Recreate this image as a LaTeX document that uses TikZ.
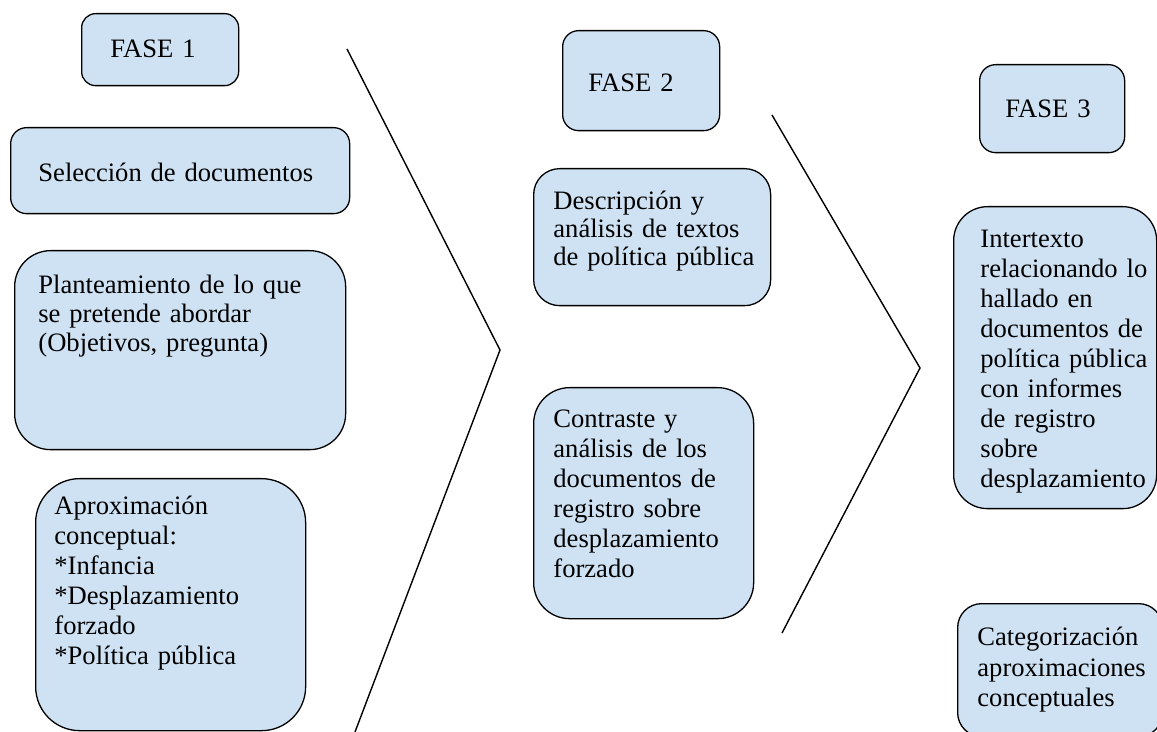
\documentclass[tikz,border=0pt]{standalone}
\usepackage{fontspec}
\setmainfont{Liberation Serif}
\definecolor{boxblue}{RGB}{207,226,243}
\newcommand{\panelfont}[1]{\fontsize{13.3}{#1}\selectfont\spaceskip=0.19em\relax}
\tikzset{
  panel/.style={draw=black, fill=boxblue, line width=0.65pt, anchor=north west, inner sep=0pt},
  paneltext/.style={anchor=base west, inner sep=0pt, align=left, text width=#1,
    font=\panelfont{15}},
  paneltext/.default=200pt,
  chevron/.style={line width=0.7pt, line join=miter}
}
\begin{document}
\begin{tikzpicture}[x=0.5pt, y=-0.5pt]
\useasboundingbox (0,0) rectangle (1157,732);

% Fase 1 column
\node[panel, minimum width=78.5pt, minimum height=36pt, rounded corners=7pt] (fase1) at (81,13) {};
\node[paneltext] (fase1-txt) at (110,58) {FASE 1};
\node[panel, minimum width=169.5pt, minimum height=43pt, rounded corners=8pt] (seleccion) at (10,127) {};
\node[paneltext] (seleccion-txt) at (38,182) {Selección de documentos};
\node[panel, minimum width=165.5pt, minimum height=99.5pt, rounded corners=18pt] (planteamiento) at (14,250) {};
\node[paneltext, font=\panelfont{14.5}] (planteamiento-txt) at (38,294)
  {Planteamiento de lo que\\se pretende abordar\\(Objetivos, pregunta)};
\node[panel, minimum width=135pt, minimum height=126pt, rounded corners=22pt] (aproximacion) at (35,478) {};
\node[paneltext] (aproximacion-txt) at (54,515)
  {Aproximación\\conceptual:\\{*}Infancia\\{*}Desplazamiento\\forzado\\{*}Política pública};

% First chevron
\coordinate (c1-top) at (347,49);
\coordinate (c1-tip) at (500,350);
\coordinate (c1-end) at (355,732);
\draw[chevron] (c1-top) -- (c1-tip) -- (c1-end);

% Fase 2 column
\node[panel, minimum width=78.5pt, minimum height=50pt, rounded corners=8pt] (fase2) at (562,30) {};
\node[paneltext] (fase2-txt) at (588,92) {FASE 2};
\node[panel, minimum width=118.5pt, minimum height=68.5pt, rounded corners=13pt] (descripcion) at (533,168) {};
\node[paneltext, font=\panelfont{14}] (descripcion-txt) at (553,210)
  {Descripción y\\análisis de textos\\de política pública};
\node[panel, minimum width=110pt, minimum height=115.5pt, rounded corners=18pt] (contraste) at (533,387) {};
\node[paneltext] (contraste-txt) at (553,428)
  {Contraste y\\análisis de los\\documentos de\\registro sobre\\desplazamiento\\forzado};

% Second chevron
\coordinate (c2-top) at (772,115);
\coordinate (c2-tip) at (920,368);
\coordinate (c2-end) at (782,633);
\draw[chevron] (c2-top) -- (c2-tip) -- (c2-end);

% Fase 3 column
\node[panel, minimum width=72.5pt, minimum height=44pt, rounded corners=8pt] (fase3) at (979,64) {};
\node[paneltext] (fase3-txt) at (1005,118) {FASE 3};
\node[panel, minimum width=101.5pt, minimum height=151pt, rounded corners=17pt] (intertexto) at (953,206) {};
\node[paneltext] (intertexto-txt) at (980,248)
  {Intertexto\\relacionando lo\\hallado en\\documentos de\\política pública\\con informes\\de registro\\sobre\\desplazamiento};
\node[panel, minimum width=102.5pt, minimum height=66.5pt, rounded corners=12pt] (categorizacion) at (957,603) {};
\node[paneltext, font=\panelfont{15.5}] (categorizacion-txt) at (977,645)
  {Categorización\\aproximaciones\\conceptuales};
\end{tikzpicture}
\end{document}
